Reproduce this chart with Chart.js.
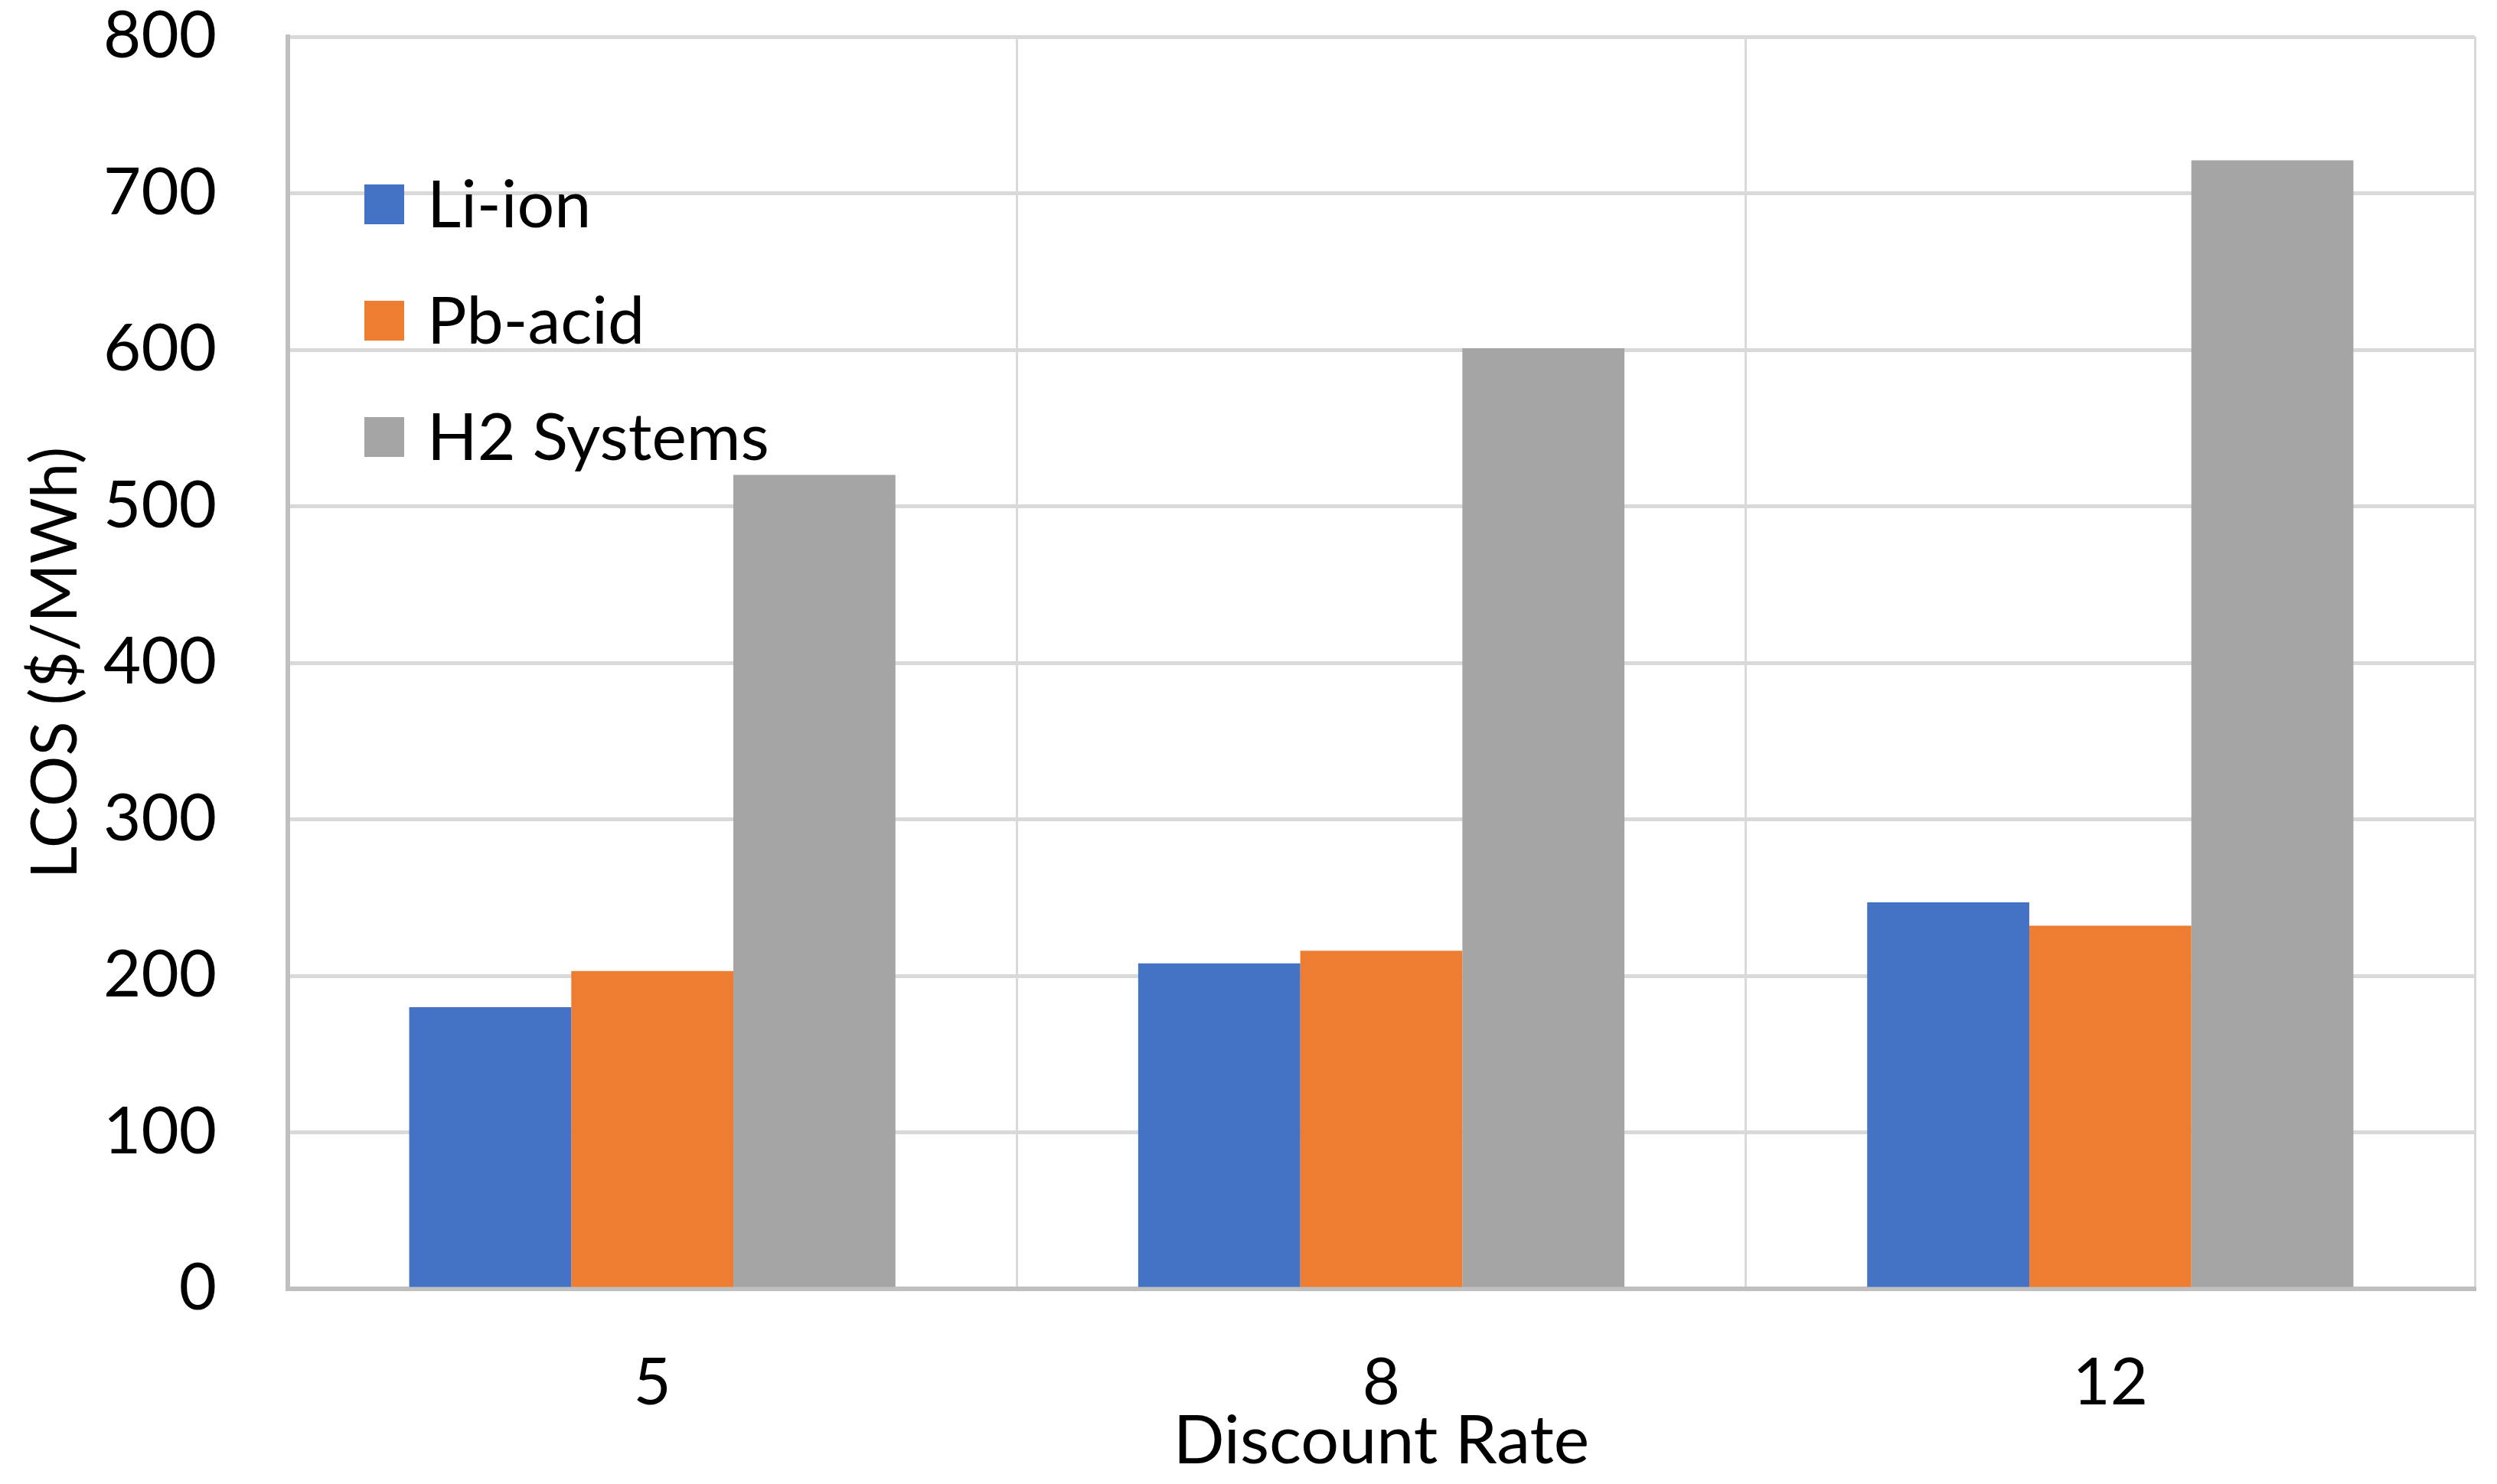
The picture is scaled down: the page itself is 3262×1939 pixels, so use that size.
<!DOCTYPE html>
<html>
<head>
<meta charset="utf-8">
<script src="https://cdn.jsdelivr.net/npm/chart.js@4"></script>
<style>
  html, body { margin: 0; padding: 0; background: #fff; }
  #wrap { width: 3262px; height: 1939px; position: relative; }
</style>
</head>
<body>
<div id="wrap"><canvas id="lcosChart"></canvas></div>
<script>
const discountRates = ["5", "8", "12"];
const seriesNames = ["Li-ion", "Pb-acid", "H2 Systems"];
const liIon = [180, 208, 247];
const pbAcid = [203, 216, 232];
const h2Systems = [520, 601, 721];
const yMin = 0;
const yMax = 800;
const yStep = 100;

const FONT = "Lato, 'Noto Sans', sans-serif";

// legend sits inside the plot, top-left, one entry per row
const insideLegend = {
  id: "insideLegend",
  afterDraw(chart, args, opts) {
    const { ctx, chartArea } = chart;
    ctx.save();
    ctx.font = `${opts.fontSize}px ${FONT}`;
    ctx.textBaseline = "middle";
    chart.data.datasets.forEach((ds, i) => {
      const x = chartArea.left + opts.left;
      const y = chartArea.top + opts.top + i * opts.rowGap;
      ctx.fillStyle = ds.backgroundColor;
      ctx.fillRect(x, y - opts.box / 2, opts.box, opts.box);
      ctx.fillStyle = "#000";
      ctx.fillText(ds.label, x + opts.box + opts.gap, y + opts.textShift);
    });
    ctx.restore();
  },
};

const ctx = document.getElementById("lcosChart").getContext("2d");

new Chart(ctx, {
  type: "bar",
  data: {
    labels: discountRates,
    datasets: [
      { label: seriesNames[0], data: liIon, backgroundColor: "#4472C4" },
      { label: seriesNames[1], data: pbAcid, backgroundColor: "#ED7D31" },
      { label: seriesNames[2], data: h2Systems, backgroundColor: "#A5A5A5" },
    ],
  },
  options: {
    responsive: true,
    maintainAspectRatio: false,
    devicePixelRatio: 1,
    animation: false,
    layout: { padding: { left: 20, right: 29, top: 0, bottom: 0 } },
    datasets: {
      bar: { categoryPercentage: 0.667, barPercentage: 1.0, borderWidth: 0 },
    },
    plugins: {
      legend: { display: false },
      tooltip: { enabled: false },
      insideLegend: {
        left: 100, top: 219, rowGap: 152, box: 52, gap: 30,
        fontSize: 86, textShift: 2,
      },
    },
    scales: {
      x: {
        grid: { color: "#D9D9D9", lineWidth: 3, drawTicks: false, offset: true },
        border: { color: "#BFBFBF", width: 6 },
        ticks: { color: "#000", font: { family: FONT, size: 85 }, padding: 73 },
        title: {
          display: true,
          text: "Discount Rate",
          color: "#000",
          font: { family: FONT, size: 88 },
          padding: { top: 0, bottom: 3 },
        },
        afterFit: (scale) => { scale.height = 255; },
      },
      y: {
        min: yMin,
        max: yMax,
        grid: { color: "#D9D9D9", lineWidth: 5, drawTicks: false },
        border: { color: "#BFBFBF", width: 6 },
        ticks: {
          stepSize: yStep,
          color: "#000",
          font: { family: FONT, size: 85 },
          padding: 93,
        },
        title: {
          display: true,
          text: "LCOS ($/MWh)",
          color: "#000",
          font: { family: FONT, size: 83 },
          padding: { top: 3, bottom: 0 },
        },
        afterFit: (scale) => {
          // tick padding is only a horizontal gap here, so do not let it push the plot down
          scale.width = 356;
          scale.paddingTop = 48;
          scale.paddingBottom = 48;
        },
      },
    },
  },
  plugins: [insideLegend],
});
</script>
</body>
</html>
